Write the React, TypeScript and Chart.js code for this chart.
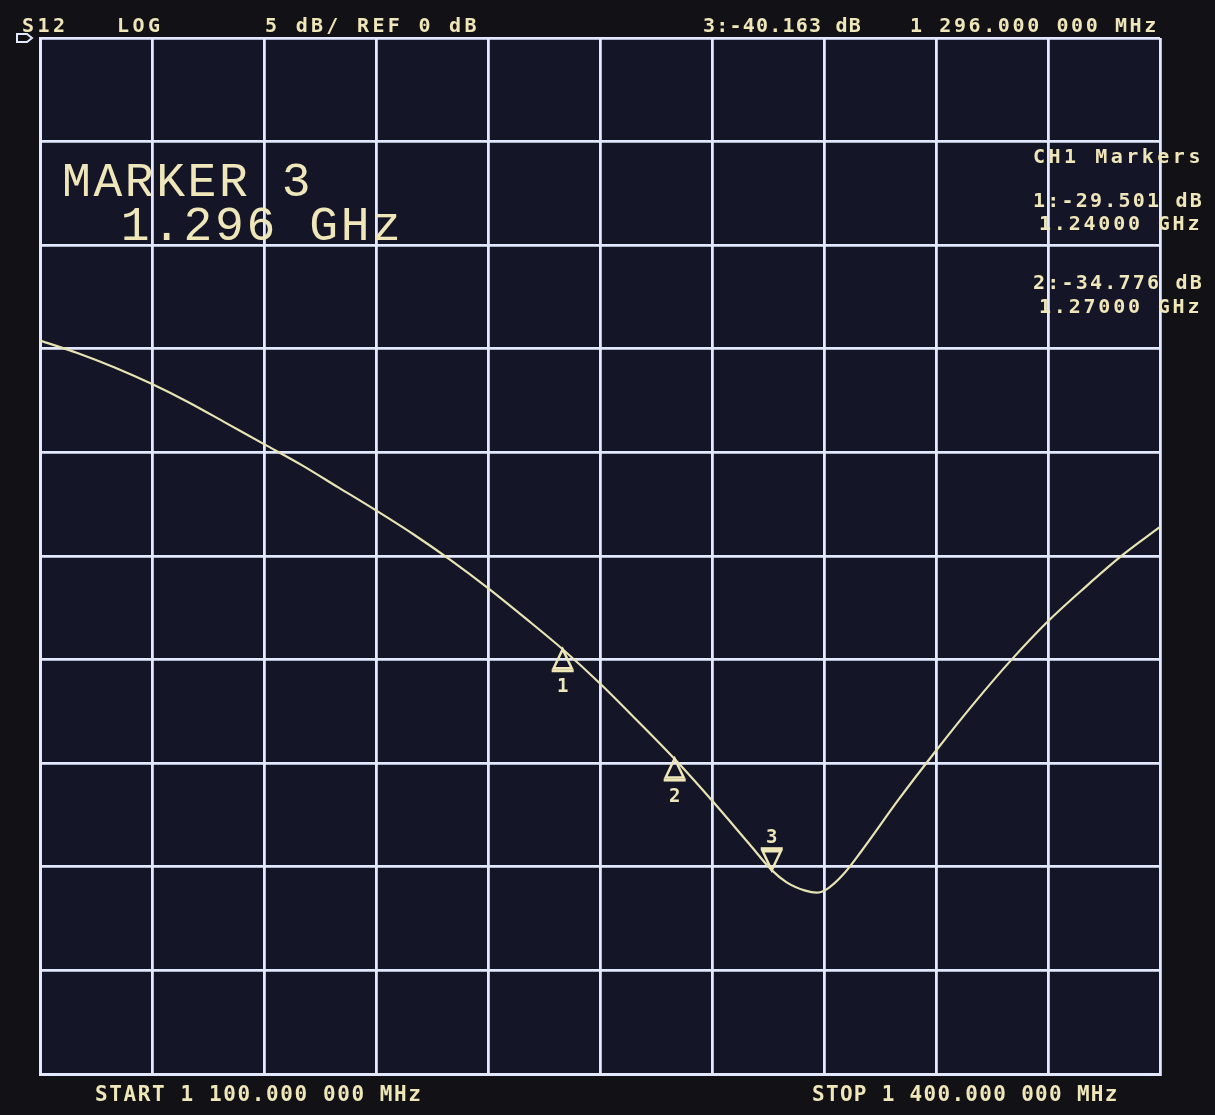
import React, { useEffect, useRef } from 'react';
import { Chart, registerables } from 'chart.js';

Chart.register(...registerables);

// ---- data ----
const freqMHz = [1100, 1110, 1120, 1130, 1140, 1150, 1160, 1170, 1180, 1190, 1200, 1210, 1220, 1230, 1240, 1250, 1260, 1270, 1280, 1290, 1296, 1300, 1305, 1308, 1311, 1315, 1320, 1330, 1340, 1350, 1360, 1370, 1380, 1390, 1400];
const s12dB = [-14.6, -15.2, -15.9, -16.7, -17.6, -18.6, -19.6, -20.6, -21.7, -22.8, -23.95, -25.2, -26.55, -28.0, -29.5, -31.15, -32.95, -34.8, -36.8, -38.9, -40.16, -40.75, -41.15, -41.25, -41.05, -40.4, -39.25, -36.75, -34.4, -32.15, -30.05, -28.15, -26.5, -24.95, -23.6];

const markerFreqMHz = [1240, 1270, 1296];
const markerDb = [-29.501, -34.776, -40.163];
const markerIds = ['1', '2', '3'];
const markerDown = [false, false, true];

const xStartMHz = 1100;
const xStopMHz = 1400;
const xStepMHz = 30;
const yRefDb = 0;
const yBottomDb = -50;
const yStepDb = 5;

const headerTexts = ['S12', 'LOG', '5 dB/ REF 0 dB', '3:-40.163 dB', '1 296.000 000 MHz'];
const footerTexts = ['START 1 100.000 000 MHz', 'STOP 1 400.000 000 MHz'];
const bigTexts = ['MARKER 3', '  1.296 GHz'];
const sideTexts = ['CH1 Markers', '1:-29.501 dB', '1.24000 GHz', '2:-34.776 dB', '1.27000 GHz'];

const TXT = '#efe7b9';
const TRACE = '#e8e3b3';
const GRID = '#e2e8ff';
const MONO = '"DejaVu Sans Mono", monospace';
const THIN = '"Liberation Mono", monospace';

function txt(ctx: CanvasRenderingContext2D, s: string, x: number, y: number, font: string, sp: number) {
  ctx.save();
  ctx.font = font;
  (ctx as any).letterSpacing = sp + 'px';
  ctx.fillStyle = TXT;
  ctx.textAlign = 'left';
  ctx.textBaseline = 'alphabetic';
  ctx.fillText(s, x, y);
  ctx.restore();
}

const bgPlugin = {
  id: 'bg',
  beforeDraw(chart: any) {
    const { ctx, chartArea: a } = chart;
    ctx.save();
    ctx.fillStyle = '#111116';
    ctx.fillRect(0, 0, chart.width, chart.height);
    ctx.fillStyle = '#141627';
    ctx.fillRect(a.left, a.top, a.right - a.left, a.bottom - a.top);
    ctx.restore();
  },
};

const markerPlugin = {
  id: 'markers',
  afterDatasetsDraw(chart: any) {
    const { ctx } = chart;
    const xs = chart.scales.x;
    const ys = chart.scales.y;
    ctx.save();
    ctx.strokeStyle = TXT;
    ctx.fillStyle = TXT;
    ctx.lineJoin = 'miter';
    for (let i = 0; i < markerFreqMHz.length; i++) {
      const px = xs.getPixelForValue(markerFreqMHz[i]);
      const py = ys.getPixelForValue(markerDb[i]);
      const d = markerDown[i] ? -1 : 1;
      ctx.lineWidth = 2.5;
      ctx.beginPath();
      ctx.moveTo(px, py);
      ctx.lineTo(px - 9, py + d * 19);
      ctx.lineTo(px + 9, py + d * 19);
      ctx.closePath();
      ctx.stroke();
      ctx.lineWidth = 3;
      ctx.beginPath();
      ctx.moveTo(px - 11, py + d * 21.5);
      ctx.lineTo(px + 11, py + d * 21.5);
      ctx.stroke();
      ctx.font = `bold 19px ${MONO}`;
      ctx.textAlign = 'center';
      ctx.fillText(markerIds[i], px, markerDown[i] ? py - 27 : py + 43);
    }
    ctx.restore();
  },
};

const textPlugin = {
  id: 'texts',
  afterDraw(chart: any) {
    const { ctx, chartArea: a } = chart;
    const f20 = `bold 20px ${MONO}`;
    txt(ctx, headerTexts[0], 22, 32, f20, 3.5);
    txt(ctx, headerTexts[1], 117, 32, f20, 3.5);
    txt(ctx, headerTexts[2], 265, 32, f20, 3.3);
    txt(ctx, headerTexts[3], 703, 32, f20, 1.2);
    txt(ctx, headerTexts[4], 910, 32, f20, 2.6);

    const f21 = `bold 21px ${MONO}`;
    txt(ctx, footerTexts[0], 95, 1101, f21, 1.6);
    txt(ctx, footerTexts[1], 812, 1101, f21, 1.3);

    const fb = `48px ${THIN}`;
    txt(ctx, bigTexts[0], 62, 196, fb, 2.6);
    txt(ctx, bigTexts[1], 58, 240, fb, 2.6);

    txt(ctx, sideTexts[0], 1033, 163, f20, 3.5);
    txt(ctx, sideTexts[1], 1033, 207, f20, 2.2);
    txt(ctx, sideTexts[2], 1039, 230, f20, 2.8);
    txt(ctx, sideTexts[3], 1033, 289, f20, 2.2);
    txt(ctx, sideTexts[4], 1039, 313, f20, 2.8);

    // reference-level flag at top-left of the graticule
    ctx.save();
    ctx.strokeStyle = GRID;
    ctx.lineWidth = 2;
    ctx.beginPath();
    const ry = a.top;
    ctx.moveTo(17, ry - 4);
    ctx.lineTo(27, ry - 4);
    ctx.lineTo(32, ry);
    ctx.lineTo(27, ry + 4);
    ctx.lineTo(17, ry + 4);
    ctx.closePath();
    ctx.stroke();
    ctx.restore();
  },
};

export default function App() {
  const ref = useRef<HTMLCanvasElement>(null);
  useEffect(() => {
    document.body.style.margin = '0';
    document.body.style.background = '#111116';
    const canvas = ref.current!;
    const chart = new Chart(canvas, {
      type: 'line',
      data: {
        datasets: [
          {
            data: freqMHz.map((f, i) => ({ x: f, y: s12dB[i] })),
            borderColor: TRACE,
            borderWidth: 2.2,
            pointRadius: 0,
            cubicInterpolationMode: 'monotone',
            fill: false,
          },
        ],
      },
      options: {
        animation: false,
        responsive: false,
        devicePixelRatio: 1,
        layout: { padding: { left: 40, right: 55, top: 38, bottom: 41 } },
        plugins: { legend: { display: false }, tooltip: { enabled: false } },
        events: [],
        scales: {
          x: {
            type: 'linear',
            min: xStartMHz,
            max: xStopMHz,
            ticks: { stepSize: xStepMHz, display: false },
            grid: { color: GRID, lineWidth: 2.8, drawTicks: false },
            border: { display: true, color: GRID, width: 3 },
          },
          y: {
            type: 'linear',
            min: yBottomDb,
            max: yRefDb,
            ticks: { stepSize: yStepDb, display: false },
            grid: { color: GRID, lineWidth: 2.8, drawTicks: false },
            border: { display: true, color: GRID, width: 3 },
          },
        },
      },
      plugins: [bgPlugin, markerPlugin, textPlugin],
    } as any);
    return () => chart.destroy();
  }, []);
  return (
    <div style={{ width: 1215, height: 1115 }}>
      <canvas ref={ref} width={1215} height={1115} style={{ display: 'block', width: 1215, height: 1115 }} />
    </div>
  );
}
